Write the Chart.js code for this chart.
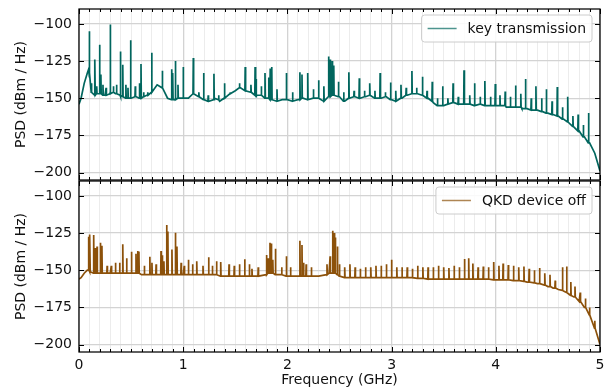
<!DOCTYPE html>
<html>
<head>
<meta charset="utf-8">
<script src="https://cdn.jsdelivr.net/npm/chart.js@4.4.1/dist/chart.umd.min.js"></script>
<style>
  html, body { margin: 0; padding: 0; background: #fff; }
  #wrap { position: relative; width: 606px; height: 392px; }
  #wrap canvas { position: absolute; left: 0; }
</style>
</head>
<body>
<div id="wrap">
  <canvas id="topChart" style="top:0px"></canvas>
  <canvas id="botChart" style="top:176px"></canvas>
</div>
<script>
// tick values
const xMajor = [0, 1, 2, 3, 4, 5];
const yTicks = [-200, -175, -150, -125, -100];
var xMinor = [];
for (let i = 1; i < 50; i++) if (i % 10) xMinor.push(i / 10);

// key transmission: smooth floor (GHz, dBm/Hz)
const topFreq = [0,0.02,0.05,0.08,0.09,0.1,0.12,0.15,0.2,0.25,0.3,0.35,0.4,0.45,0.5,0.55,0.6,0.65,0.7,0.75,0.8,0.85,0.9,0.95,1.0,1.05,1.1,1.15,1.2,1.25,1.3,1.35,1.4,1.45,1.5,1.55,1.6,1.65,1.7,1.75,1.8,1.85,1.9,1.95,2.0,2.05,2.1,2.15,2.2,2.25,2.3,2.35,2.4,2.45,2.5,2.55,2.6,2.65,2.7,2.75,2.8,2.85,2.9,2.95,3.0,3.05,3.1,3.15,3.2,3.25,3.3,3.35,3.4,3.45,3.5,3.55,3.6,3.65,3.7,3.75,3.8,3.85,3.9,3.95,4.0,4.05,4.1,4.15,4.2,4.25,4.3,4.35,4.4,4.45,4.5,4.55,4.6,4.65,4.7,4.75,4.8,4.85,4.9,4.95,5.0];
const topPsd = [-154,-150,-140,-133,-131,-136,-146,-148,-147,-148,-146,-147,-149,-150,-150,-149,-150,-148,-145,-141,-143,-150,-151,-150,-150,-150,-147,-149,-151,-152,-150,-152,-150,-147,-145,-143,-145,-146,-149,-148,-150,-151,-152,-151,-151,-152,-151,-150,-151,-150,-150,-152,-149,-148,-149,-152,-150,-149,-150,-149,-148,-150,-150,-149,-151,-152,-150,-148,-147,-147,-148,-150,-153,-155,-155,-154,-153,-154,-154,-154,-155,-154,-155,-155,-155,-155,-156,-156,-156,-157,-157,-158,-158,-159,-160,-161,-162,-164,-166,-169,-172,-176,-180,-187,-199];
// key transmission: spikes [GHz, peak, floor]
const topSpikes = [
  [0.099,-105,-133],[0.12,-140,-146],[0.153,-124,-148],[0.17,-142,-147],[0.197,-114,-147],[0.21,-134,-147],
  [0.23,-141,-148],[0.26,-143,-148],[0.30,-100.5,-147],[0.33,-142,-146],[0.36,-141,-147],[0.397,-118.5,-148],
  [0.42,-127.5,-149],[0.45,-141,-150],[0.47,-143,-150],[0.495,-111,-150],[0.54,-142,-149],[0.58,-140,-150],
  [0.595,-127,-150],[0.62,-146,-149],[0.66,-146,-148],[0.697,-119.5,-146],[0.80,-131.5,-143],[0.89,-130.5,-151],
  [0.90,-133,-151],[0.925,-125,-151],[0.95,-141,-150],[1.00,-129,-150],[1.097,-123,-147],[1.15,-146,-149],
  [1.196,-133,-151],[1.24,-148,-152],[1.295,-133.5,-151],[1.34,-148,-151],[1.395,-140,-150],[1.45,-146,-147],
  [1.54,-140,-143],[1.595,-129,-145],[1.65,-141,-146],[1.69,-129,-148],[1.70,-137,-148],[1.75,-142,-148],
  [1.785,-133,-150],[1.82,-136,-150],[1.835,-130,-151],[1.85,-129,-151],[1.90,-144,-152],[1.99,-133,-151],
  [2.05,-146,-152],[2.12,-132.5,-151],[2.14,-134,-150],[2.195,-133,-151],[2.25,-144,-150],[2.30,-138,-150],
  [2.35,-142,-152],[2.395,-122,-149],[2.41,-124,-149],[2.43,-125,-148],[2.445,-128,-148],[2.49,-139,-149],
  [2.54,-146,-152],[2.59,-132.5,-150],[2.64,-145,-149],[2.69,-136.5,-150],[2.74,-145,-149],[2.79,-140,-148],
  [2.84,-145,-150],[2.89,-133,-150],[2.94,-146,-149],[2.99,-139.5,-151],[3.04,-145,-152],[3.09,-141,-150],
  [3.14,-143,-148],[3.195,-131.7,-147],[3.24,-143,-147],[3.295,-135.5,-148],[3.34,-145,-150],[3.39,-139,-152],
  [3.44,-150,-155],[3.49,-142,-155],[3.54,-150,-154],[3.59,-140,-153],[3.64,-149,-154],[3.695,-131.2,-154],
  [3.75,-148,-154],[3.795,-140,-155],[3.85,-149,-154],[3.895,-138.5,-155],[3.95,-149,-155],[3.995,-140.5,-155],
  [4.04,-148,-155],[4.09,-145.5,-155],[4.14,-149,-156],[4.19,-141.5,-156],[4.24,-147,-156],[4.285,-137,-157],
  [4.34,-150,-158],[4.385,-142,-158],[4.44,-150,-159],[4.485,-144,-160],[4.54,-152,-161],[4.59,-142.5,-162],
  [4.64,-156,-164],[4.69,-149,-166],[4.74,-162,-169],[4.79,-161,-172],[4.84,-168,-176],[4.89,-160,-180]
];

// QKD device off: smooth floor
const botFreq = [0,0.02,0.05,0.08,0.1,0.2,0.3,0.4,0.5,0.6,0.7,0.8,0.9,1.0,1.1,1.2,1.3,1.4,1.5,1.6,1.7,1.8,1.9,2.0,2.1,2.2,2.3,2.4,2.5,2.6,2.7,2.8,2.9,3.0,3.1,3.2,3.3,3.4,3.5,3.6,3.7,3.8,3.9,4.0,4.1,4.2,4.3,4.4,4.5,4.55,4.6,4.65,4.7,4.75,4.8,4.85,4.9,4.95,5.0];
const botPsd = [-156,-155,-152,-150,-151,-152,-152,-152,-152,-153,-153,-153,-153,-153,-153,-153,-153,-154,-154,-154,-154,-153,-153,-154,-154,-154,-154,-152,-154,-155,-155,-155,-155,-155,-155,-155,-155.5,-156,-156,-156,-156,-156,-156,-156.5,-156.5,-157,-158,-159,-161,-162,-163,-164,-166,-168,-171,-175,-180,-189,-200];
// QKD device off: spikes [GHz, peak, floor]
const botSpikes = [
  [0.093,-127.5,-150],[0.105,-126,-151],[0.141,-126.3,-152],[0.157,-135,-152],[0.173,-134,-152],[0.205,-131.5,-152],
  [0.22,-133.5,-152],[0.27,-147,-152],[0.31,-147,-152],[0.35,-145,-152],[0.39,-145,-152],[0.42,-132.5,-152],
  [0.457,-142,-152],[0.505,-137.5,-152],[0.547,-139,-152],[0.563,-137,-152],[0.575,-137.5,-152],[0.627,-147,-153],
  [0.68,-141,-153],[0.70,-145,-153],[0.74,-146,-153],[0.787,-137,-153],[0.80,-140,-153],[0.815,-144,-153],
  [0.841,-119.6,-153],[0.853,-124,-153],[0.892,-136,-153],[0.925,-124.8,-153],[0.94,-134,-153],[0.98,-145,-153],
  [1.01,-147,-153],[1.05,-143,-153],[1.09,-146,-153],[1.13,-144,-153],[1.19,-147,-153],[1.244,-141.3,-153],
  [1.28,-147,-153],[1.32,-144,-153],[1.36,-144.5,-154],[1.44,-146,-154],[1.49,-147,-154],[1.54,-146,-154],
  [1.59,-142.7,-154],[1.635,-146,-154],[1.66,-149,-154],[1.72,-148,-154],[1.80,-139.7,-153],[1.815,-142,-152],
  [1.833,-131.5,-152],[1.846,-132,-152],[1.86,-143,-152],[1.885,-135.5,-153],[1.945,-148,-153],[1.99,-140.6,-154],
  [2.03,-148,-154],[2.12,-130.2,-154],[2.14,-133,-154],[2.155,-145,-154],[2.18,-146,-154],[2.23,-148,-154],
  [2.38,-146,-153],[2.41,-140.6,-152],[2.434,-123.4,-152],[2.45,-125,-152],[2.46,-128,-152],[2.48,-134,-153],
  [2.50,-146,-154],[2.55,-148,-155],[2.60,-146,-155],[2.65,-148,-155],[2.70,-149,-155],[2.75,-148,-155],
  [2.80,-148,-155],[2.85,-147,-155],[2.90,-147,-155],[2.95,-146,-155],[3.00,-143,-155],[3.05,-148,-155],
  [3.10,-148,-155],[3.15,-148,-155],[3.20,-149,-155],[3.25,-147,-155.5],[3.30,-148,-155.5],[3.35,-148,-156],
  [3.40,-148,-156],[3.45,-147,-156],[3.50,-148,-156],[3.55,-148.5,-156],[3.60,-147,-156],[3.65,-148,-156],
  [3.70,-142.5,-156],[3.74,-142,-156],[3.78,-145.5,-156],[3.83,-148,-156],[3.88,-147.5,-156],[3.93,-148,-156],
  [3.98,-144.5,-156.5],[4.03,-147,-156.5],[4.07,-145.5,-156.5],[4.12,-146.5,-156.5],[4.17,-147,-157],[4.22,-148,-157],
  [4.27,-147.5,-157.5],[4.32,-149,-158],[4.37,-150,-158.5],[4.42,-148.5,-159],[4.47,-152,-160],[4.52,-153,-161],
  [4.57,-157,-162],[4.64,-148,-163.5],[4.68,-147.5,-165],[4.72,-158,-167],[4.76,-161,-168],[4.81,-165,-171],
  [4.86,-169,-175],[4.90,-175,-180],[4.95,-184,-189]
];

function buildSeries(freq, psd, spikes) {
  let pts = freq.map((f, i) => ({x: f, y: psd[i]}));
  spikes.forEach(s => {
    pts.push({x: s[0] - 0.003, y: s[2]});
    pts.push({x: s[0], y: s[1]});
    pts.push({x: s[0] + 0.003, y: s[2]});
  });
  return pts.sort((a, b) => a.x - b.x);
}

const FONT = 'DejaVu Sans';
Chart.defaults.font.family = FONT;
Chart.defaults.font.size = 14;
Chart.defaults.color = '#111';

// frame, inward ticks and inset legend
const framePlugin = {
  id: 'frame',
  afterDraw(chart, args, opts) {
    const ctx = chart.ctx, a = chart.chartArea;
    const xs = chart.scales.x, ys = chart.scales.y;
    ctx.save();
    ctx.strokeStyle = '#000';
    ctx.lineWidth = 1;
    ctx.beginPath();
    const tick = (v, len) => {
      const px = Math.round(xs.getPixelForValue(v)) + 0.5;
      ctx.moveTo(px, a.top); ctx.lineTo(px, a.top + len);
      ctx.moveTo(px, a.bottom); ctx.lineTo(px, a.bottom - len);
    };
    xMajor.forEach(v => tick(v, 5));
    xMinor.forEach(v => tick(v, 3));
    yTicks.forEach(v => {
      const py = Math.round(ys.getPixelForValue(v)) + 0.5;
      ctx.moveTo(a.left, py); ctx.lineTo(a.left + 5, py);
      ctx.moveTo(a.right, py); ctx.lineTo(a.right - 5, py);
    });
    ctx.stroke();
    ctx.lineWidth = 1.25;
    ctx.strokeRect(a.left, a.top, a.right - a.left, a.bottom - a.top);

    // legend
    const ds = chart.data.datasets[0];
    ctx.font = '14px ' + FONT;
    const tw = ctx.measureText(ds.label).width;
    const bw = 6 + 29 + 11 + tw + 6, bh = 27;
    const bx = a.right - 8 - bw, by = a.top + 6;
    ctx.beginPath();
    ctx.roundRect(bx, by, bw, bh, 3);
    ctx.fillStyle = 'rgba(255,255,255,0.85)';
    ctx.fill();
    ctx.strokeStyle = '#cccccc';
    ctx.lineWidth = 1;
    ctx.stroke();
    ctx.beginPath();
    ctx.strokeStyle = opts.legendColor;
    ctx.lineWidth = 1.5;
    ctx.moveTo(bx + 6, by + bh / 2);
    ctx.lineTo(bx + 35, by + bh / 2);
    ctx.stroke();
    ctx.fillStyle = '#111';
    ctx.textBaseline = 'middle';
    ctx.fillText(ds.label, bx + 46, by + bh / 2 + 1);
    ctx.restore();
  }
};

const minus = v => String(v).replace('-', '\u2212');

function makeChart(id, height, label, color, legendColor, data, isBottom) {
  const cv = document.getElementById(id);
  cv.width = 606; cv.height = height;
  cv.style.width = '606px'; cv.style.height = height + 'px';
  return new Chart(cv, {
    type: 'line',
    data: { datasets: [{
      label: label,
      data: data,
      borderColor: color,
      borderWidth: 1.7,
      pointRadius: 0,
      tension: 0
    }]},
    plugins: [framePlugin],
    options: {
      responsive: false,
      animation: false,
      events: [],
      layout: { padding: isBottom ? {top: 5, right: 6, bottom: 0, left: 0} : {top: 9, right: 6, bottom: 1, left: 0} },
      plugins: {
        legend: { display: false },
        tooltip: { enabled: false },
        frame: { legendColor: legendColor }
      },
      scales: {
        x: {
          type: 'linear',
          min: 0, max: 5,
          afterBuildTicks: s => { s.ticks = xMajor.concat(xMinor).sort((p, q) => p - q).map(v => ({value: v})); },
          afterFit: s => { s.height = isBottom ? 40 : 0; s.paddingLeft = 0; s.paddingRight = 0; },
          ticks: {
            display: isBottom,
            autoSkip: false,
            maxRotation: 0,
            padding: 5,
            color: '#111',
            callback: v => (xMajor.includes(v) ? String(v) : '')
          },
          grid: {
            drawTicks: false,
            color: c => (xMajor.includes(c.tick && c.tick.value) ? '#d3d3d3' : '#ececec'),
            lineWidth: c => (xMajor.includes(c.tick && c.tick.value) ? 1.3 : 1)
          },
          border: { display: false },
          title: { display: isBottom, text: 'Frequency (GHz)', color: '#111', padding: {top: 0, bottom: 3} }
        },
        y: {
          min: -205, max: -90,
          afterBuildTicks: s => { s.ticks = yTicks.map(v => ({value: v})); },
          afterFit: s => { s.width = 79; s.paddingTop = 0; s.paddingBottom = 0; },
          ticks: { padding: 7, color: '#111', callback: v => minus(v) },
          grid: { drawTicks: false, color: '#d3d3d3', lineWidth: 1.3 },
          border: { display: false },
          title: { display: true, text: 'PSD (dBm / Hz)', color: '#111', padding: {top: 13, bottom: 0} }
        }
      }
    }
  });
}

makeChart('topChart', 181, 'key transmission', '#01665e', 'rgba(1,102,94,0.7)',
  buildSeries(topFreq, topPsd, topSpikes), false);
makeChart('botChart', 216, 'QKD device off', '#8c510a', 'rgba(140,81,10,0.7)',
  buildSeries(botFreq, botPsd, botSpikes), true);
</script>
</body>
</html>
